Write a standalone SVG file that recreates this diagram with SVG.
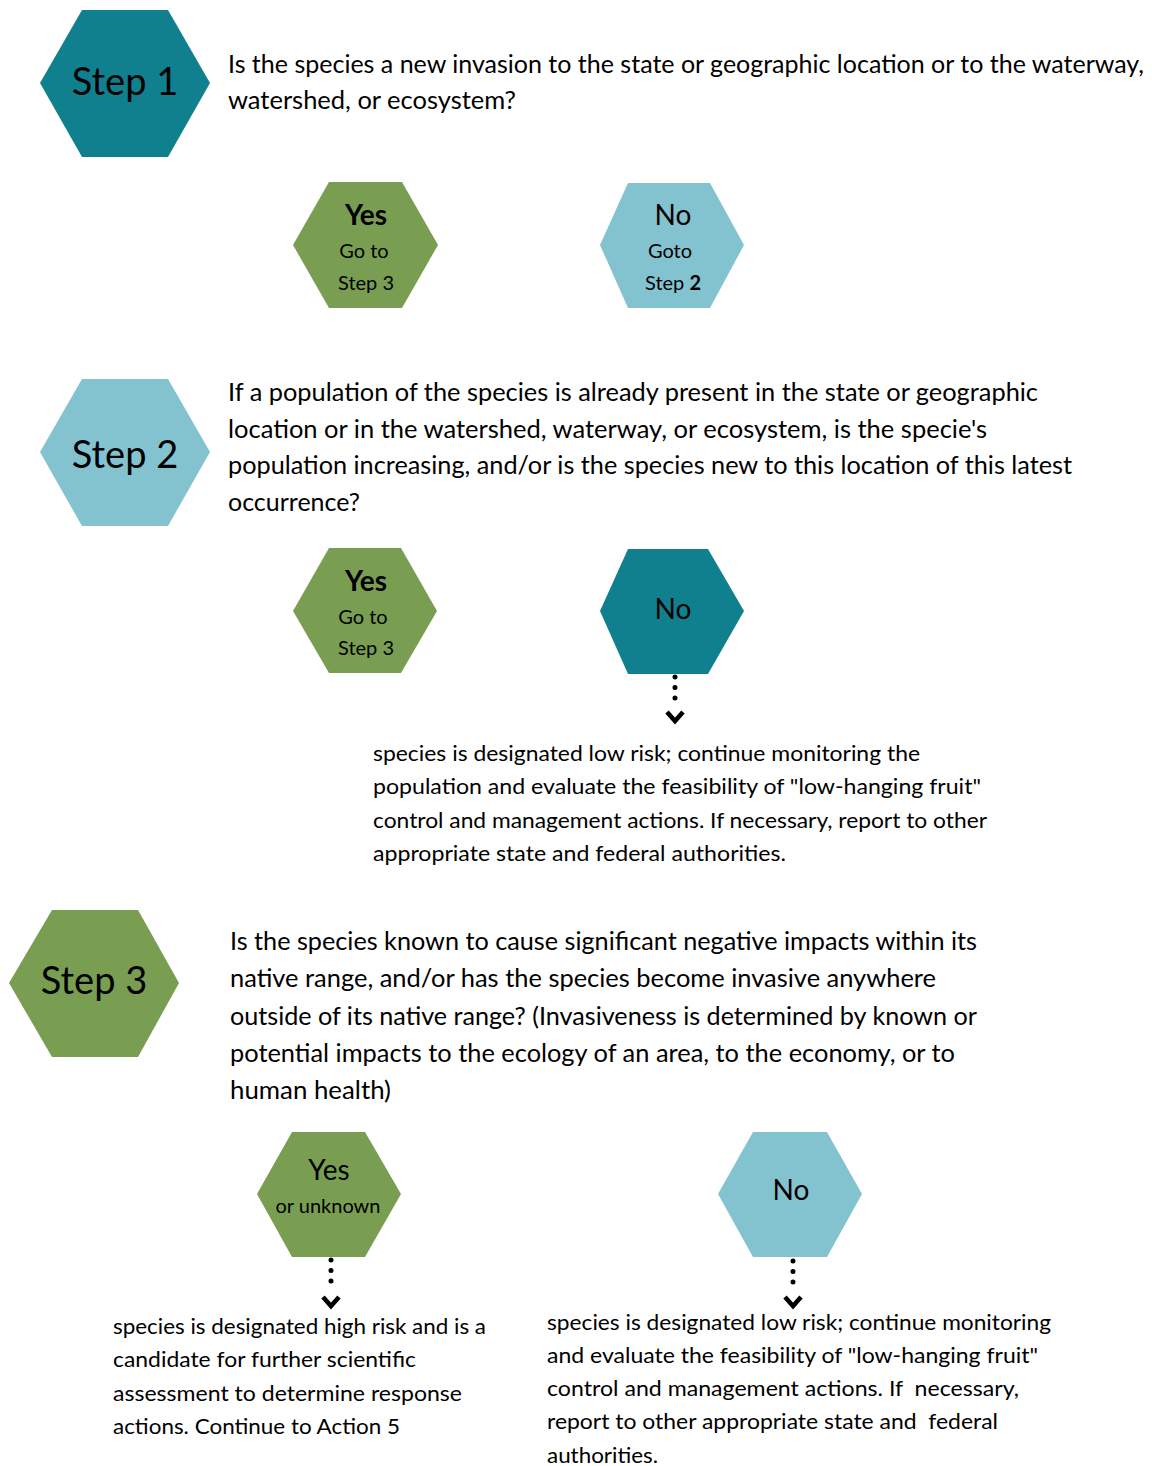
<svg xmlns="http://www.w3.org/2000/svg" width="1152" height="1466" viewBox="0 0 1152 1466">
<style>
.teal{fill:#10808f}
.green{fill:#799e51}
.light{fill:#83c3d0}
text{font-family:Lato,"Liberation Sans",sans-serif;fill:#000}
.big{font-size:38px}
.ans{font-size:28px}
.bold{font-weight:bold}
.sub{font-size:20px}
.q{font-size:25px}
.d{font-size:22px}
.dot{fill:none;stroke:#000;stroke-width:5;stroke-linecap:round;stroke-dasharray:0 10.5}
.chev{fill:none;stroke:#000;stroke-width:4.5;stroke-linecap:butt;stroke-linejoin:miter}
</style>
<rect width="1152" height="1466" fill="#fff"/>

<g id="step1">
<polygon class="teal" points="82,10 168,10 210,83 168,157 82,157 40,83"/>
<text class="big" x="125" y="95" text-anchor="middle">Step 1</text>
</g>
<g id="q1">
<text class="q" x="228" y="73" textLength="916" lengthAdjust="spacingAndGlyphs">Is the species a new invasion to the state or geographic location or to the waterway,</text>
<text class="q" x="228" y="109" textLength="288" lengthAdjust="spacingAndGlyphs">watershed, or ecosystem?</text>
</g>
<g id="yes1">
<polygon class="green" points="329,182 402,182 438,245 402,308 329,308 293,245"/>
<text class="ans bold" x="366" y="225" text-anchor="middle">Yes</text>
<text class="sub" x="364" y="258" text-anchor="middle">Go to</text>
<text class="sub" x="366" y="290" text-anchor="middle">Step 3</text>
</g>
<g id="no1">
<polygon class="light" points="628,183 710,183 744,245 710,308 628,308 600,245"/>
<text class="ans" x="673" y="225" text-anchor="middle">No</text>
<text class="sub" x="670" y="258" text-anchor="middle">Goto</text>
<text class="sub" x="673" y="290" text-anchor="middle">Step <tspan font-weight="bold">2</tspan></text>
</g>

<g id="step2">
<polygon class="light" points="82,379 168,379 210,452 168,526 82,526 40,452"/>
<text class="big" x="125" y="468" text-anchor="middle">Step 2</text>
</g>
<g id="q2">
<text class="q" x="228" y="401" textLength="810" lengthAdjust="spacingAndGlyphs">If a population of the species is already present in the state or geographic</text>
<text class="q" x="228" y="438" textLength="759" lengthAdjust="spacingAndGlyphs">location or in the watershed, waterway, or ecosystem, is the specie's</text>
<text class="q" x="228" y="474" textLength="844" lengthAdjust="spacingAndGlyphs">population increasing, and/or is the species new to this location of this latest</text>
<text class="q" x="228" y="511" textLength="132" lengthAdjust="spacingAndGlyphs">occurrence?</text>
</g>
<g id="yes2">
<polygon class="green" points="329,548 401,548 437,611 401,673 329,673 293,611"/>
<text class="ans bold" x="366" y="591" text-anchor="middle">Yes</text>
<text class="sub" x="363" y="624" text-anchor="middle">Go to</text>
<text class="sub" x="366" y="655" text-anchor="middle">Step 3</text>
</g>
<g id="no2">
<polygon class="teal" points="628,549 708,549 744,611 708,674 628,674 600,611"/>
<text class="ans" x="673" y="619" text-anchor="middle">No</text>
</g>
<g id="low2">
<text class="d" x="373" y="761" textLength="547" lengthAdjust="spacingAndGlyphs">species is designated low risk; continue monitoring the</text>
<text class="d" x="373" y="794" textLength="608" lengthAdjust="spacingAndGlyphs">population and evaluate the feasibility of "low-hanging fruit"</text>
<text class="d" x="373" y="828" textLength="614" lengthAdjust="spacingAndGlyphs">control and management actions. If necessary, report to other</text>
<text class="d" x="373" y="861" textLength="413" lengthAdjust="spacingAndGlyphs">appropriate state and federal authorities.</text>
</g>

<g id="step3">
<polygon class="green" points="52,910 138,910 179,983 138,1057 52,1057 9,983"/>
<text class="big" x="94" y="994" text-anchor="middle">Step 3</text>
</g>
<g id="q3">
<text class="q" x="230" y="950" textLength="747" lengthAdjust="spacingAndGlyphs">Is the species known to cause significant negative impacts within its</text>
<text class="q" x="230" y="987" textLength="706" lengthAdjust="spacingAndGlyphs">native range, and/or has the species become invasive anywhere</text>
<text class="q" x="230" y="1025" textLength="747" lengthAdjust="spacingAndGlyphs">outside of its native range? (Invasiveness is determined by known or</text>
<text class="q" x="230" y="1062" textLength="725" lengthAdjust="spacingAndGlyphs">potential impacts to the ecology of an area, to the economy, or to</text>
<text class="q" x="230" y="1099" textLength="161" lengthAdjust="spacingAndGlyphs">human health)</text>
</g>
<g id="yes3">
<polygon class="green" points="292,1132 365,1132 401,1194 365,1257 292,1257 257,1194"/>
<text class="ans" x="329" y="1180" text-anchor="middle">Yes</text>
<text class="sub" x="328" y="1213" text-anchor="middle">or unknown</text>
</g>
<g id="no3">
<polygon class="light" points="753,1132 827,1132 862,1194 827,1257 753,1257 718,1194"/>
<text class="ans" x="791" y="1200" text-anchor="middle">No</text>
</g>
<g id="high3">
<text class="d" x="113" y="1334" textLength="373" lengthAdjust="spacingAndGlyphs">species is designated high risk and is a</text>
<text class="d" x="113" y="1367" textLength="303" lengthAdjust="spacingAndGlyphs">candidate for further scientific</text>
<text class="d" x="113" y="1401" textLength="349" lengthAdjust="spacingAndGlyphs">assessment to determine response</text>
<text class="d" x="113" y="1434" textLength="287" lengthAdjust="spacingAndGlyphs">actions. Continue to Action 5</text>
</g>
<g id="low3">
<text class="d" x="547" y="1330" textLength="504" lengthAdjust="spacingAndGlyphs">species is designated low risk; continue monitoring</text>
<text class="d" x="547" y="1363" textLength="491" lengthAdjust="spacingAndGlyphs">and evaluate the feasibility of "low-hanging fruit"</text>
<text class="d" x="547" y="1396" textLength="472" lengthAdjust="spacingAndGlyphs" xml:space="preserve">control and management actions. If  necessary,</text>
<text class="d" x="547" y="1429" textLength="451" lengthAdjust="spacingAndGlyphs" xml:space="preserve">report to other appropriate state and  federal</text>
<text class="d" x="547" y="1463" textLength="111" lengthAdjust="spacingAndGlyphs">authorities.</text>
</g>

<g id="connectors">
<line class="dot" x1="675" y1="677" x2="675" y2="708"/>
<polyline class="chev" points="667,712 675,721 683,712"/>
<line class="dot" x1="331" y1="1260" x2="331" y2="1291"/>
<polyline class="chev" points="323,1297 331,1306 339,1297"/>
<line class="dot" x1="793" y1="1261" x2="793" y2="1292"/>
<polyline class="chev" points="785,1297 793,1306 801,1297"/>
</g>
</svg>
